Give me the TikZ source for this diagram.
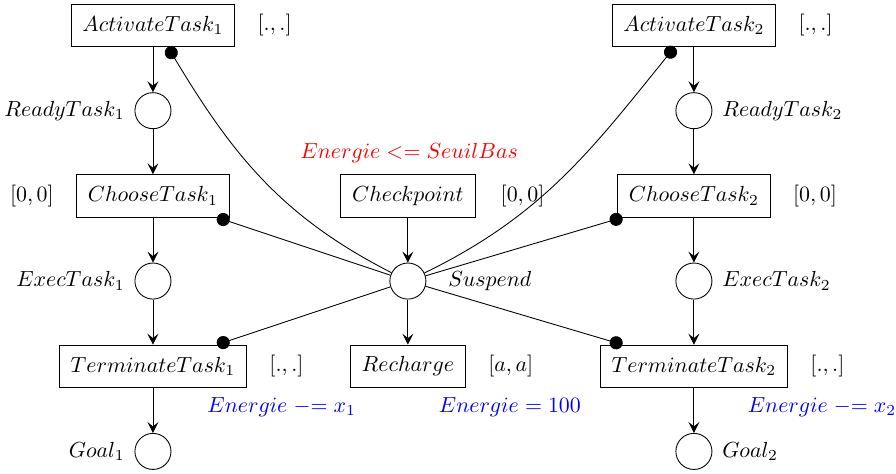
\documentclass[tikz,border=0pt]{standalone}
\usetikzlibrary{arrows.meta, positioning}

\begin{document}
\begin{tikzpicture}[
    trans/.style={rectangle, draw, inner xsep=5.2pt, minimum height=0.68cm},
    place/.style={circle, draw, minimum size=0.58cm, inner sep=0pt},
    flow/.style={-{Stealth[length=5pt, width=5pt, inset=2pt]}},
    inhib/.style={-{Circle[length=6pt]}},
    guard/.style={text=red},
    update/.style={text=blue}
]
    \useasboundingbox (-6.56,-3.10) rectangle (7.85,4.52);

    % Task 1
    \node[trans] (ActivateTask1) at (-4.10,4.11) {$ActivateTask_1$};
    \node[place] (ReadyTask1) at (-4.10,2.74) {};
    \node[trans] (ChooseTask1) at (-4.10,1.37) {$ChooseTask_1$};
    \node[place] (ExecTask1) at (-4.10,0) {};
    \node[trans] (TerminateTask1) at (-4.10,-1.37) {$TerminateTask_1$};
    \node[place] (Goal1) at (-4.10,-2.74) {};

    % Task 2
    \node[trans] (ActivateTask2) at (4.60,4.11) {$ActivateTask_2$};
    \node[place] (ReadyTask2) at (4.60,2.74) {};
    \node[trans] (ChooseTask2) at (4.60,1.37) {$ChooseTask_2$};
    \node[place] (ExecTask2) at (4.60,0) {};
    \node[trans] (TerminateTask2) at (4.60,-1.37) {$TerminateTask_2$};
    \node[place] (Goal2) at (4.60,-2.74) {};

    % Energy
    \node[trans] (Checkpoint) at (0,1.37) {$Checkpoint$};
    \node[place] (Suspend) at (0,0) {};
    \node[trans] (Recharge) at (0,-1.37) {$Recharge$};

    % Place names
    \node[left=1pt of ReadyTask1] (ReadyTask1Name) {$ReadyTask_1$};
    \node[left=1pt of ExecTask1] (ExecTask1Name) {$ExecTask_1$};
    \node[left=1pt of Goal1] (Goal1Name) {$Goal_1$};
    \node[right=1pt of ReadyTask2] (ReadyTask2Name) {$ReadyTask_2$};
    \node[right=1pt of ExecTask2] (ExecTask2Name) {$ExecTask_2$};
    \node[right=1pt of Goal2] (Goal2Name) {$Goal_2$};
    \node[right=6.5pt of Suspend] (SuspendName) {$Suspend$};

    % Intervals
    \node[right=6.7pt of ActivateTask1] (ActivateTask1Int) {$[.,.]$};
    \node[left=6.7pt of ChooseTask1] (ChooseTask1Int) {$[0,0]$};
    \node[right=6.7pt of TerminateTask1] (TerminateTask1Int) {$[.,.]$};
    \node[right=6.7pt of ActivateTask2] (ActivateTask2Int) {$[.,.]$};
    \node[right=6.7pt of ChooseTask2] (ChooseTask2Int) {$[0,0]$};
    \node[right=6.7pt of TerminateTask2] (TerminateTask2Int) {$[.,.]$};
    \node[right=8pt of Checkpoint] (CheckpointInt) {$[0,0]$};
    \node[right=6.7pt of Recharge] (RechargeInt) {$[a,a]$};

    % Guard and updates
    \node[guard] (CheckpointGuard) at (0.02,2.06) {$Energie <= SeuilBas$};
    \node[update] (TerminateTask1Upd) at (-2.03,-2.03) {$Energie \mathrel{{-}{=}} x_1$};
    \node[update] (RechargeUpd) at (1.64,-2.03) {$Energie = 100$};
    \node[update] (TerminateTask2Upd) at (6.66,-2.03) {$Energie \mathrel{{-}{=}} x_2$};

    % Arcs
    \draw[flow] (ActivateTask1) -- (ReadyTask1);
    \draw[flow] (ReadyTask1) -- (ChooseTask1);
    \draw[flow] (ChooseTask1) -- (ExecTask1);
    \draw[flow] (ExecTask1) -- (TerminateTask1);
    \draw[flow] (TerminateTask1) -- (Goal1);
    \draw[flow] (ActivateTask2) -- (ReadyTask2);
    \draw[flow] (ReadyTask2) -- (ChooseTask2);
    \draw[flow] (ChooseTask2) -- (ExecTask2);
    \draw[flow] (ExecTask2) -- (TerminateTask2);
    \draw[flow] (TerminateTask2) -- (Goal2);
    \draw[flow] (Checkpoint) -- (Suspend);
    \draw[flow] (Suspend) -- (Recharge);

    % Inhibitor arcs
    \draw[inhib] (Suspend) to[out=153, in=-59] ([xshift=0.24cm]ActivateTask1.south);
    \draw[inhib] (Suspend) to[out=26, in=-129] ([xshift=-0.31cm]ActivateTask2.south);
    \draw[inhib] (Suspend) -- ([xshift=1.03cm]ChooseTask1.south);
    \draw[inhib] (Suspend) -- ([xshift=1.03cm]TerminateTask1.north);
    \draw[inhib] (Suspend) -- ([xshift=-1.15cm]ChooseTask2.south);
    \draw[inhib] (Suspend) -- ([xshift=-1.15cm]TerminateTask2.north);
\end{tikzpicture}
\end{document}
